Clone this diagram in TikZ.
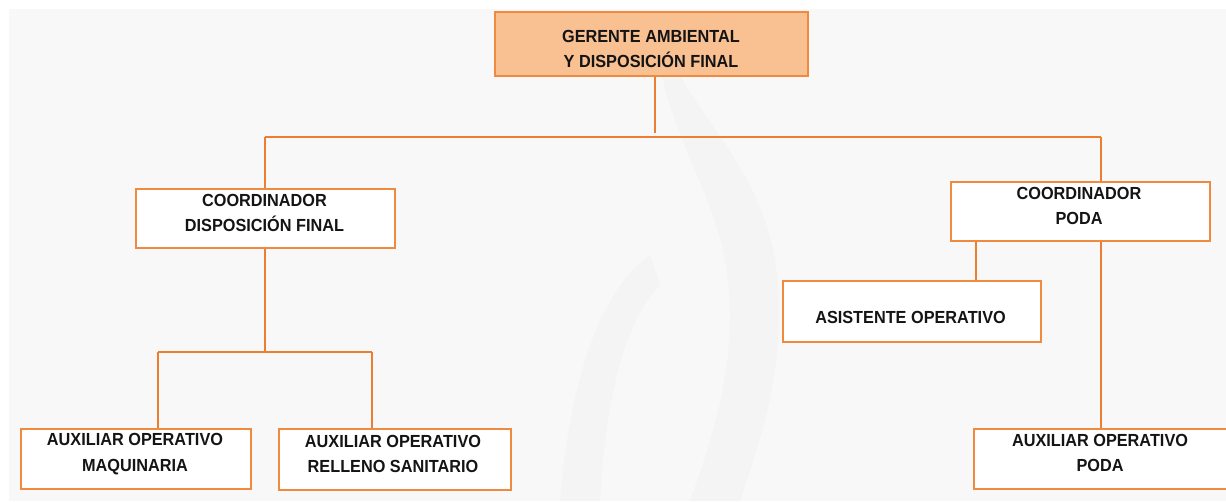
\documentclass[tikz,border=0pt]{standalone}
\usepackage{fontspec}
\setmainfont{Liberation Sans}[FakeStretch=0.93]
\definecolor{bgc}{HTML}{F8F8F8}
\definecolor{wmc}{HTML}{F4F4F4}
\definecolor{lnc}{HTML}{ED7D31}
\definecolor{bdc}{HTML}{EF8A3E}
\definecolor{pch}{HTML}{F9C091}
\definecolor{txc}{HTML}{141414}
\tikzset{
  box/.style={draw=bdc, line width=1.7pt, fill=white, inner sep=0pt, anchor=north west},
  lbl/.style={font=\fontsize{17.5}{25.5}\selectfont\bfseries, text=txc, align=center, inner sep=0pt},
  conn/.style={draw=lnc, line width=1.4pt}
}
\begin{document}
\begin{tikzpicture}[x=1pt,y=-1pt]
\useasboundingbox (0,0) rectangle (1226,501);
\fill[bgc] (9,9) rectangle (1226,501);
% faint watermark
\fill[wmc] (672,60) .. controls (700,120) and (760,170) .. (775,260)
  .. controls (790,360) and (760,440) .. (740,501) -- (690,501)
  .. controls (720,420) and (740,340) .. (725,260)
  .. controls (712,190) and (668,130) .. (660,60) -- cycle;
\fill[wmc] (650,255) .. controls (600,290) and (570,380) .. (560,501) -- (600,501)
  .. controls (605,400) and (625,320) .. (660,285) -- cycle;
% boxes
\node[box, fill=pch, minimum width=313, minimum height=64] (g) at (494,11) {};
\node[box, minimum width=259, minimum height=59] (cdf) at (135,188) {};
\node[box, minimum width=259, minimum height=59] (cp) at (950,181) {};
\node[box, minimum width=258, minimum height=61] (as) at (782,280) {};
\node[box, minimum width=230, minimum height=60] (am) at (20,428) {};
\node[box, minimum width=232, minimum height=61] (ar) at (278,428) {};
\node[box, minimum width=260, minimum height=60] (ap) at (973,428) {};
% labels
\node[lbl] (gt) at (651,49) {GERENTE AMBIENTAL\\Y DISPOSICIÓN FINAL};
\node[lbl] (cdft) at (264.5,213) {COORDINADOR\\DISPOSICIÓN FINAL};
\node[lbl] (cpt) at (1079,206) {COORDINADOR\\PODA};
\node[lbl] (ast) at (910.5,317) {ASISTENTE OPERATIVO};
\node[lbl] (amt) at (135,454) {AUXILIAR OPERATIVO\\MAQUINARIA};
\node[lbl] (art) at (393,454) {AUXILIAR OPERATIVO\\RELLENO SANITARIO};
\node[lbl] (apt) at (1100,453) {AUXILIAR OPERATIVO\\PODA};
% junction coordinates
\coordinate (j0) at (655,133);
\coordinate (jl) at (265,137);
\coordinate (jr) at (1101,137);
\coordinate (jd) at (265,352);
\coordinate (jdl) at (158,352);
\coordinate (jdr) at (372,352);
\coordinate (ja) at (976,280);
% connectors
\draw[conn] (g.south west -| j0) -- (j0);
\draw[conn] (jl) -- (jr);
\draw[conn] (jl) -- (jl |- cdf.north);
\draw[conn] (jr) -- (jr |- cp.north);
\draw[conn] (cdf.south -| jd) -- (jd);
\draw[conn] (jdl) -- (jdr);
\draw[conn] (jdl) -- (jdl |- am.north);
\draw[conn] (jdr) -- (jdr |- ar.north);
\draw[conn] (cp.south -| ja) -- (ja |- as.north);
\draw[conn] (cp.south -| jr) -- (jr |- ap.north);
\end{tikzpicture}
\end{document}
